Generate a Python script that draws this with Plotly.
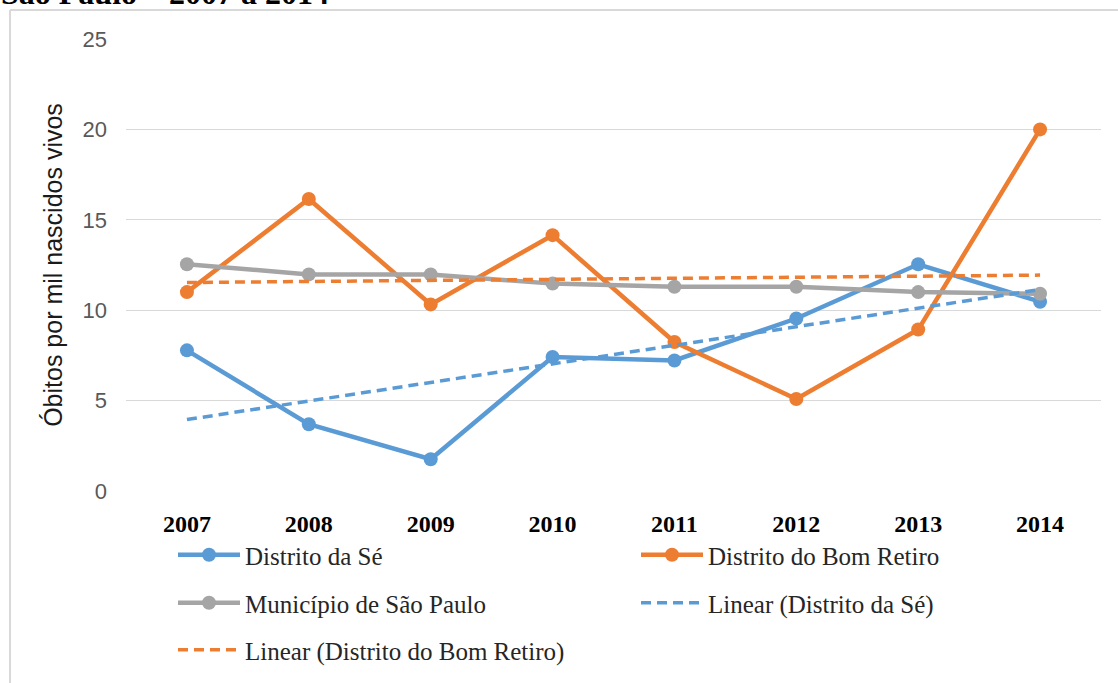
import plotly.graph_objects as go

years = ["2007", "2008", "2009", "2010", "2011", "2012", "2013", "2014"]
se = [7.78, 3.69, 1.76, 7.41, 7.22, 9.54, 12.54, 10.47]
bom_retiro = [11.0, 16.15, 10.32, 14.15, 8.24, 5.09, 8.93, 20.0]
municipio = [12.54, 11.98, 11.98, 11.47, 11.3, 11.3, 11.0, 10.91]
trend_years = ["2007", "2014"]
trend_se = [3.95, 11.14]
trend_br = [11.53, 11.94]
y_ticks = [0, 5, 10, 15, 20, 25]

BLUE = "#5B9BD5"
ORANGE = "#ED7D31"
GRAY = "#A5A5A5"

W, H = 1118, 683
ML, MR, MT, MB = 126, 17, 39, 192
PW = W - ML - MR
PH = H - MT - MB


def px_x(px):
    return (px - ML) / PW


def px_y(py):
    return (H - MB - py) / PH


fig = go.Figure()
fig.add_trace(go.Scatter(x=years, y=se, name="Distrito da Sé", mode="lines+markers",
                         line=dict(color=BLUE, width=4.5), marker=dict(size=14, color=BLUE),
                         legend="legend"))
fig.add_trace(go.Scatter(x=years, y=bom_retiro, name="Distrito do Bom Retiro", mode="lines+markers",
                         line=dict(color=ORANGE, width=4.5), marker=dict(size=14, color=ORANGE),
                         legend="legend2"))
fig.add_trace(go.Scatter(x=years, y=municipio, name="Município de São Paulo", mode="lines+markers",
                         line=dict(color=GRAY, width=4.5), marker=dict(size=14, color=GRAY),
                         legend="legend3"))
fig.add_trace(go.Scatter(x=trend_years, y=trend_se, name="Linear (Distrito da Sé)", mode="lines",
                         line=dict(color=BLUE, width=3.5, dash="10px,6px"),
                         legend="legend4"))
fig.add_trace(go.Scatter(x=trend_years, y=trend_br, name="Linear (Distrito do Bom Retiro)", mode="lines",
                         line=dict(color=ORANGE, width=3.5, dash="10px,6px"),
                         legend="legend5"))

legend_font = dict(family="Liberation Serif", size=25, color="#262626")


def leg(px, py):
    return dict(x=px_x(px), y=px_y(py), xanchor="left", yanchor="middle",
                font=legend_font, bgcolor="rgba(0,0,0,0)", itemwidth=62,
                borderwidth=0)


fig.update_layout(
    width=W, height=H,
    margin=dict(l=ML, r=MR, t=MT, b=MB, autoexpand=False),
    paper_bgcolor="white", plot_bgcolor="white",
    template="none",
    legend=leg(173, 555),
    legend2=leg(636, 555),
    legend3=leg(173, 603),
    legend4=leg(636, 603),
    legend5=leg(173, 650),
    xaxis=dict(type="category", categoryorder="array", categoryarray=years,
               showgrid=False, showline=False, zeroline=False, ticks="",
               tickfont=dict(family="Liberation Serif", size=24, color="black", weight="bold"),
               ticklabelstandoff=16, range=[-0.5, 7.5]),
    yaxis=dict(range=[0, 25], tickvals=y_ticks, showgrid=True, gridcolor="#D9D9D9", gridwidth=1,
               zeroline=False, showline=False, ticks="",
               tickfont=dict(family="Liberation Sans", size=22, color="#595959"),
               ticklabelstandoff=18,
               title=dict(text="Óbitos por mil nascidos vivos", standoff=12,
                          font=dict(family="Liberation Sans", size=25, color="#1a1a1a"))),
    showlegend=True,
)

# chart frame (partially visible)
fig.add_shape(type="line", xref="paper", yref="paper", x0=px_x(10), x1=px_x(1130),
              y0=px_y(10), y1=px_y(10), line=dict(color="#D9D9D9", width=2))
fig.add_shape(type="line", xref="paper", yref="paper", x0=px_x(10), x1=px_x(10),
              y0=px_y(10), y1=px_y(700), line=dict(color="#D9D9D9", width=2))

# cut-off caption above the chart
fig.add_annotation(text="<b>São Paulo – 2007 a 2014</b>", xref="paper", yref="paper",
                   x=px_x(-1), y=px_y(13), xanchor="left", yanchor="bottom", showarrow=False,
                   font=dict(family="Liberation Serif", size=32, color="black"))

fig.write_html("out.html")
